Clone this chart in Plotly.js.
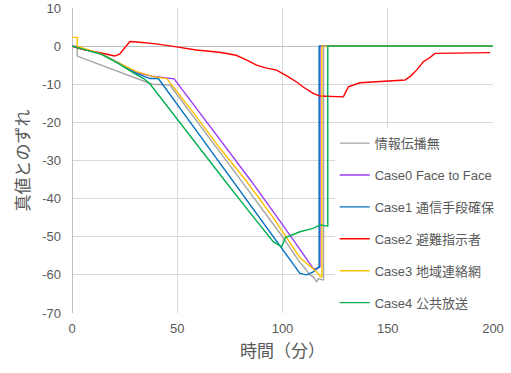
<!DOCTYPE html>
<html>
<head>
<meta charset="utf-8">
<script src="https://cdn.plot.ly/plotly-3.0.1.min.js"></script>
<style>html,body{margin:0;padding:0;background:#fff;}#chart{width:511px;height:373px;}</style>
</head>
<body>
<div id="chart"></div>
<script>
// Series names
const seriesNames = ["情報伝播無", "Case0 Face to Face", "Case1 通信手段確保", "Case2 避難指示者", "Case3 地域連絡網", "Case4 公共放送"];

// 情報伝播無 (gray)
const xNone = [0, 2.5, 2.5, 10, 20, 30, 38, 46.5, 55, 70, 80, 90, 100, 108.3, 110, 113, 114.6, 116.2, 117, 118.8, 119.5, 119.5, 200];
const yNone = [0, 0, -2.6, -4.2, -6.3, -8.3, -10, -10.2, -16.4, -27.6, -35, -42.5, -50, -56.8, -57.8, -60, -60.5, -61.8, -61, -61.3, -61.3, 0, 0];

// Case0 Face to Face (purple)
const xCase0 = [0, 2.5, 14, 22, 30, 38, 45, 48.5, 60, 74.3, 85, 100, 108.3, 114.6, 116, 117.8, 117.8, 200];
const yCase0 = [0, -0.4, -2.1, -4.3, -6.8, -7.9, -8.3, -8.6, -17, -27.3, -35.3, -46.8, -53.5, -58.3, -58.5, -57.9, 0, 0];

// Case1 通信手段確保 (blue)
const xCase1 = [0, 2.5, 14, 22, 30, 37, 41, 55, 66.4, 75, 90, 100, 108.3, 111.5, 114.6, 117, 117.4, 117.4, 200];
const yCase1 = [0, -0.4, -2.1, -4.4, -7, -8.5, -8.5, -19.1, -27.8, -34.3, -45.7, -53.3, -59.6, -60, -59.2, -58, -58, 0, 0];

// Case2 避難指示者 (red)
const xCase2 = [0, 4.4, 13.9, 20.3, 22.6, 25, 27.5, 31, 40, 49.7, 59, 70, 78, 83, 87.7, 92, 97.2, 102, 106.7, 110, 114.6, 117.8, 128.9, 131.3, 136.8, 158.2, 161, 163.7, 166.9, 170, 172.4, 198.6];
const yCase2 = [0, -0.8, -1.8, -2.6, -2.1, -0.5, 1.2, 1.1, 0.6, -0.2, -1.0, -1.6, -2.4, -3.7, -5, -5.7, -6.3, -7.8, -9.4, -10.8, -12.4, -13.1, -13.3, -10.7, -9.6, -8.9, -7.8, -6.3, -4.1, -3, -1.9, -1.7];

// Case3 地域連絡網 (orange)
const xCase3 = [0, 2.5, 2.5, 14, 22, 30.7, 38.6, 45, 58, 70.3, 83, 95, 108.3, 116.2, 118.1, 118.7, 118.7, 200];
const yCase3 = [2.3, 2.3, 0, -2.1, -4.4, -6.7, -8, -8.5, -17.7, -26.8, -35.5, -44.5, -55.5, -59.2, -60.5, -60.5, 0, 0];

// Case4 公共放送 (green)
const xCase4 = [0, 2.4, 13.9, 21.9, 29.8, 34, 36.9, 46.6, 60.8, 71.9, 85, 95.6, 99.6, 101.4, 108.3, 114.6, 117.8, 121.5, 121.5, 200];
const yCase4 = [0, -0.4, -2.1, -4.5, -7.2, -8.5, -9.8, -16.8, -27, -34.8, -44, -51.3, -52.6, -50.2, -48.7, -47.8, -46.9, -47.2, 0, 0];

// Axis ticks
const xTicks = [0, 50, 100, 150, 200];
const yTicks = [-70, -60, -50, -40, -30, -20, -10, 0, 10];

const colors = ["#a5a5a5", "#9a3cf5", "#0070c0", "#ff0000", "#ffc000", "#00b050"];
const xs = [xNone, xCase0, xCase1, xCase2, xCase3, xCase4];
const ys = [yNone, yCase0, yCase1, yCase2, yCase3, yCase4];

const traces = seriesNames.map((n, i) => ({
  type: "scatter", mode: "lines", name: n,
  x: xs[i], y: ys[i],
  legendgroup: "g" + i,
  line: {color: colors[i], width: 1.4},
  hoverinfo: "skip"
}));

const fontFam = 'Liberation Sans, "Noto Sans CJK JP", sans-serif';
const layout = {
  width: 511, height: 373,
  margin: {l: 72, r: 18, t: 8, b: 60},
  paper_bgcolor: "#ffffff", plot_bgcolor: "#ffffff",
  font: {family: fontFam, size: 13, color: "#595959"},
  showlegend: true,
  legend: {
    x: 0.624, xanchor: "left", y: 0.606, yanchor: "top",
    bgcolor: "#ffffff", borderwidth: 0,
    font: {family: fontFam, size: 13, color: "#595959"},
    tracegroupgap: 12, traceorder: "grouped"
  },
  xaxis: {
    range: [0, 200], tickvals: xTicks, ticktext: xTicks.map(String),
    showgrid: true, gridcolor: "#d9d9d9", gridwidth: 1,
    zeroline: true, zerolinecolor: "#bfbfbf", zerolinewidth: 1,
    showline: false, ticks: "", ticklabelstandoff: 6,
    title: {text: "時間（分）", font: {family: fontFam, size: 17, color: "#595959"}, standoff: 10},
    fixedrange: true
  },
  yaxis: {
    range: [-70, 10], tickvals: yTicks, ticktext: yTicks.map(String),
    showgrid: true, gridcolor: "#d9d9d9", gridwidth: 1,
    zeroline: true, zerolinecolor: "#bfbfbf", zerolinewidth: 1,
    showline: false, ticks: "", ticklabelstandoff: 10,
    title: {text: "真値とのずれ", font: {family: fontFam, size: 17, color: "#595959"}, standoff: 8},
    fixedrange: true
  }
};

Plotly.newPlot("chart", traces, layout, {staticPlot: true, displayModeBar: false});
</script>
</body>
</html>
